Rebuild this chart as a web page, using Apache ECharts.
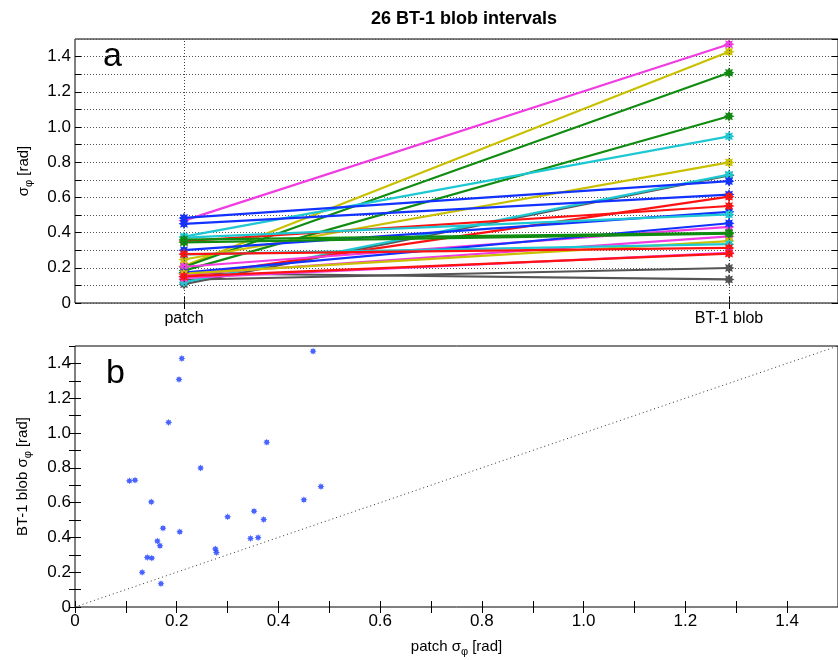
<!DOCTYPE html>
<html>
<head>
<meta charset="utf-8">
<script src="https://cdn.jsdelivr.net/npm/echarts@6/dist/echarts.min.js"></script>
<style>html,body{margin:0;padding:0;background:#fff}#c{width:838px;height:660px}</style>
</head>
<body>
<div id="c"></div>
<script>
// ---- data ----
const categories = ['patch', 'BT-1 blob'];
const categoryPos = [1, 2];
const patchSigma = [0.468, 0.210, 0.2045, 0.184, 0.377, 0.247, 0.107, 0.118, 0.4835, 0.450, 0.150, 0.300, 0.352,
  0.371, 0.206, 0.173, 0.162, 0.167, 0.345, 0.360, 0.276, 0.278, 0.142, 0.151, 0.132, 0.169];
const blobSigma = [1.470, 1.428, 1.308, 1.061, 0.947, 0.799, 0.725, 0.729, 0.692, 0.616, 0.604, 0.518, 0.551,
  0.503, 0.432, 0.453, 0.379, 0.352, 0.394, 0.399, 0.334, 0.313, 0.285, 0.281, 0.199, 0.134];
const lineColorKey = ['m', 'y', 'g', 'g', 'c', 'y', 'k', 'c', 'b', 'b', 'r', 'b', 'r',
  'c', 'm', 'b', 'm', 'y', 'g', 'g', 'c', 'r', 'm', 'r', 'k', 'k'];
const identityLine = [[0, 0], [1.5, 1.5]];
const yTickLabels = ['0', '0.2', '0.4', '0.6', '0.8', '1.0', '1.2', '1.4'];
const xTickLabelsB = ['0', '0.2', '0.4', '0.6', '0.8', '1.0', '1.2', '1.4'];

const palette = { b: '#1232ff', g: '#108c10', r: '#ff1212', c: '#1ec8d2', m: '#f03ce0', y: '#c8c000', k: '#555555' };
const starPath = 'path://M0,-10 L2.3,-5.5 L7.07,-7.07 L5.5,-2.3 L10,0 L5.5,2.3 L7.07,7.07 L2.3,5.5 L0,10 L-2.3,5.5 L-7.07,7.07 L-5.5,2.3 L-10,0 L-5.5,-2.3 L-7.07,-7.07 L-2.3,-5.5 Z';
const FONT = 'Liberation Sans, Arial, sans-serif';

function labelFmt(list) {
  return function (v) {
    const k = Math.round(v / 0.2 * 1000) / 1000;
    if (Math.abs(k - Math.round(k)) > 1e-6) return '';
    return list[Math.round(k)] || '';
  };
}
const subRich = {
  sub: { fontSize: 11, fontFamily: FONT, color: '#000', padding: [9, 0, 0, 0] },
  n: { fontSize: 15, fontFamily: FONT, color: '#000' }
};
const tickStyle = { inside: true, length: 6, lineStyle: { color: '#000', width: 1 } };

const lineSeries = patchSigma.map((p, i) => ({
  type: 'line', xAxisIndex: 0, yAxisIndex: 0,
  data: [[categoryPos[0], p], [categoryPos[1], blobSigma[i]]],
  symbol: starPath, symbolSize: 11,
  lineStyle: { color: palette[lineColorKey[i]], width: 2.2 },
  itemStyle: { color: palette[lineColorKey[i]] },
  animation: false, silent: true, z: lineColorKey[i] === 'k' ? 2 : 3
}));
lineSeries[0].markLine = {
  silent: true, symbol: 'none', animation: false,
  label: { show: false },
  lineStyle: { type: [1, 2], color: '#444', width: 1 },
  data: categoryPos.map(x => ({ xAxis: x }))
};

const option = {
  backgroundColor: '#fff',
  animation: false,
  title: {
    text: '26 BT-1 blob intervals', left: 459, top: 5, textAlign: 'center',
    textStyle: { fontFamily: FONT, fontWeight: 'bold', fontSize: 18, color: '#000' }
  },
  grid: [
    { left: 75, top: 39, right: -5, height: 264, show: true, borderColor: '#000', borderWidth: 1, backgroundColor: 'transparent' },
    { left: 75, top: 346, right: -5, height: 261, show: true, borderColor: '#000', borderWidth: 1, backgroundColor: 'transparent' }
  ],
  graphic: [
    { type: 'text', left: 103, top: 40, style: { text: 'a', font: '34px ' + FONT, fill: '#000' } },
    { type: 'text', left: 106, top: 357, style: { text: 'b', font: '34px ' + FONT, fill: '#000' } }
  ],
  xAxis: [
    {
      gridIndex: 0, type: 'value', min: 0.8, max: 2.2,
      axisLine: { show: false },
      axisTick: Object.assign({ customValues: categoryPos }, tickStyle),
      axisLabel: { customValues: categoryPos, formatter: v => categories[categoryPos.indexOf(v)] || '', fontFamily: FONT, fontSize: 16, color: '#000', margin: 8 },
      splitLine: { show: false }
    },
    {
      gridIndex: 0, type: 'value', min: 0.8, max: 2.2, position: 'top',
      axisLine: { show: false },
      axisTick: Object.assign({ customValues: categoryPos }, tickStyle),
      axisLabel: { show: false }, splitLine: { show: false }
    },
    {
      gridIndex: 1, type: 'value', min: 0, max: 1.5, interval: 0.1,
      axisLine: { show: false }, axisTick: tickStyle,
      axisLabel: { formatter: labelFmt(xTickLabelsB), fontFamily: FONT, fontSize: 17, color: '#000', margin: 6, showMaxLabel: false },
      splitLine: { show: false },
      name: '{n|patch σ}{sub|φ}{n| [rad]}', nameLocation: 'middle', nameGap: 30,
      nameTextStyle: { rich: subRich }
    },
    {
      gridIndex: 1, type: 'value', min: 0, max: 1.5, interval: 0.1, position: 'top',
      axisLine: { show: false }, axisTick: tickStyle, axisLabel: { show: false }, splitLine: { show: false }
    }
  ],
  yAxis: [
    {
      gridIndex: 0, type: 'value', min: 0, max: 1.5, interval: 0.1,
      axisLine: { show: false }, axisTick: tickStyle,
      axisLabel: { formatter: labelFmt(yTickLabels), fontFamily: FONT, fontSize: 17, color: '#000', margin: 4, showMaxLabel: false },
      splitLine: { show: true, lineStyle: { type: [1, 2], color: '#555', width: 1 } },
      name: '{n|σ}{sub|φ}{n| [rad]}', nameLocation: 'middle', nameGap: 41, nameRotate: 90,
      nameTextStyle: { rich: subRich }
    },
    {
      gridIndex: 0, type: 'value', min: 0, max: 1.5, interval: 0.1, position: 'right',
      axisLine: { show: false }, axisTick: tickStyle, axisLabel: { show: false }, splitLine: { show: false }
    },
    {
      gridIndex: 1, type: 'value', min: 0, max: 1.5, interval: 0.1,
      axisLine: { show: false }, axisTick: tickStyle,
      axisLabel: { formatter: labelFmt(yTickLabels), fontFamily: FONT, fontSize: 17, color: '#000', margin: 4, showMaxLabel: false },
      splitLine: { show: false },
      name: '{n|BT-1 blob σ}{sub|φ}{n| [rad]}', nameLocation: 'middle', nameGap: 42, nameRotate: 90,
      nameTextStyle: { rich: subRich }
    },
    {
      gridIndex: 1, type: 'value', min: 0, max: 1.5, interval: 0.1, position: 'right',
      axisLine: { show: false }, axisTick: tickStyle, axisLabel: { show: false }, splitLine: { show: false }
    }
  ],
  series: lineSeries.concat([
    {
      type: 'line', xAxisIndex: 2, yAxisIndex: 2, data: identityLine, symbol: 'none',
      lineStyle: { type: [1, 3], color: '#333', width: 1 }, silent: true, animation: false
    },
    {
      type: 'scatter', xAxisIndex: 2, yAxisIndex: 2,
      data: patchSigma.map((p, i) => [p, blobSigma[i]]),
      symbol: starPath, symbolSize: 7, itemStyle: { color: '#1a3cff' }, silent: true, animation: false
    }
  ])
};
const chart = echarts.init(document.getElementById('c'), null, { renderer: 'canvas' });
chart.setOption(option);
</script>
</body>
</html>
